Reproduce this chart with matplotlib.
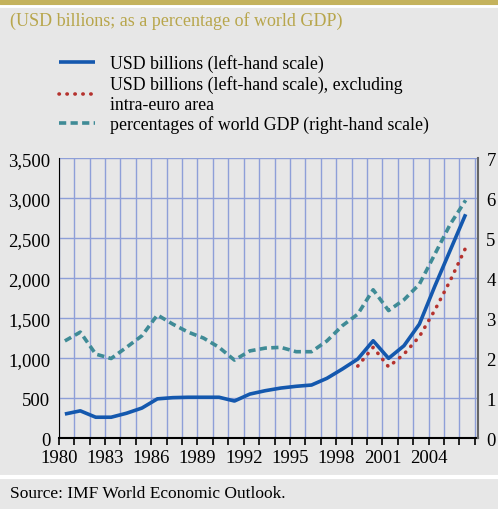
import matplotlib.pyplot as plt
from matplotlib.ticker import FuncFormatter, MultipleLocator, FixedLocator
import numpy as np

plt.rcParams['font.family'] = ['Liberation Serif', 'DejaVu Serif']

years = np.arange(1980, 2007)
usd_bn = [300, 340, 260, 260, 310, 375, 490, 505, 510, 510, 510, 463, 550, 592,
          625, 647, 663, 747, 863, 988, 1217, 997, 1155, 1426, 1900, 2350, 2800]
years_ex = np.arange(1999, 2007)
usd_bn_ex = [900, 1135, 890, 1050, 1270, 1600, 1970, 2380]
pct_gdp = [2.43, 2.65, 2.10, 1.99, 2.27, 2.56, 3.08, 2.85, 2.65, 2.50, 2.27, 1.95,
           2.18, 2.25, 2.27, 2.16, 2.16, 2.43, 2.81, 3.10, 3.71, 3.19, 3.46, 3.85,
           4.60, 5.35, 5.95]
year_labels = [1980, 1983, 1986, 1989, 1992, 1995, 1998, 2001, 2004]

bg = '#e7e7e7'
blue = '#1458ae'
teal = '#3f8b96'
red = '#b5322e'
grid = '#8e9fd8'
shift = 0.4  # points sit inside the year slot

fig = plt.figure(figsize=(4.98, 5.10), dpi=100, facecolor=bg)
ax = fig.add_axes([0.1179, 0.1392, 0.8419, 0.5484])
ax.set_facecolor(bg)
ax2 = ax.twinx()

ax.plot(years + shift, usd_bn, color=blue, lw=2.6, solid_capstyle='butt', zorder=4,
        label='USD billions (left-hand scale)')
ax.plot(years_ex + shift, usd_bn_ex, color=red, lw=2.6, ls=(0, (0.1, 2.1)),
        dash_capstyle='round', zorder=3,
        label='USD billions (left-hand scale), excluding\nintra-euro area')
ax2.plot(years + shift, pct_gdp, color=teal, lw=2.6, ls=(0, (2.0, 1.2)), zorder=3,
         label='percentages of world GDP (right-hand scale)')

ax.set_xlim(1980, 2007.2)
ax.set_ylim(0, 3500)
ax2.set_ylim(0, 7)
ax.xaxis.set_major_locator(FixedLocator(year_labels))
ax.xaxis.set_minor_locator(MultipleLocator(1))
ax.yaxis.set_major_locator(MultipleLocator(500))
ax.yaxis.set_major_formatter(FuncFormatter(lambda v, p: f'{int(v):,}'))
ax2.yaxis.set_major_locator(MultipleLocator(1))

ax.grid(True, which='both', axis='x', color=grid, lw=1)
ax.grid(True, which='major', axis='y', color=grid, lw=1)
ax.set_axisbelow(True)

for a in (ax, ax2):
    a.spines['top'].set_visible(False)
ax.spines['right'].set_visible(False)
ax2.spines['left'].set_visible(False)
ax2.spines['bottom'].set_visible(False)
ax.spines['left'].set_color('black')
ax.spines['bottom'].set_color('black')
ax.spines['bottom'].set_linewidth(1.5)
ax2.spines['right'].set_color('#666666')
ax2.spines['right'].set_linewidth(1.5)

ax.tick_params(axis='x', which='both', direction='out', length=5, width=1.2,
               labelsize=13.5, pad=3)
ax.tick_params(axis='y', length=0, labelsize=13.5, pad=6)
ax2.tick_params(axis='y', length=0, labelsize=13.5, pad=6)

# legend above the plot
h1, l1 = ax.get_legend_handles_labels()
h2, l2 = ax2.get_legend_handles_labels()
leg = fig.legend(h1 + h2, l1 + l2, loc='upper left', bbox_to_anchor=(0.105, 0.905),
                 frameon=False, fontsize=12.8, handlelength=2.0, handletextpad=0.85,
                 labelspacing=0.12, borderaxespad=0)
for t in leg.get_texts():
    t.set_linespacing(1.25)

fig.text(0.02, 0.958, '(USD billions; as a percentage of world GDP)',
         color='#b8a64c', fontsize=13, va='center')
fig.text(0.02, 0.032, 'Source: IMF World Economic Outlook.', fontsize=12.5,
         va='center')

# top band and separators
fig.patches.append(plt.Rectangle((0, 0.99), 1, 0.01, transform=fig.transFigure,
                                 color='#c4b25c', zorder=0))
fig.lines.append(plt.Line2D([0, 1], [0.986, 0.986], transform=fig.transFigure,
                            color='white', lw=2))
fig.lines.append(plt.Line2D([0, 1], [0.062, 0.062], transform=fig.transFigure,
                            color='white', lw=3))

plt.savefig('out.png', facecolor=bg)
